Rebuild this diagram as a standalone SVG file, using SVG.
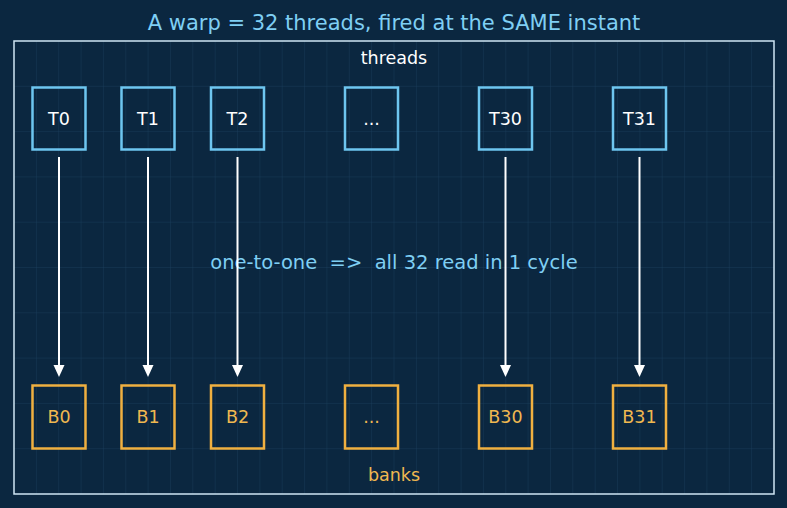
<svg xmlns="http://www.w3.org/2000/svg" width="787" height="508" viewBox="0 0 787 508">
<defs>
<style>
.t{font-family:"DejaVu Sans",sans-serif;text-anchor:middle;dominant-baseline:central}
.th rect{fill:none;stroke:#6ec6f0;stroke-width:2.5}
.th text{fill:#ffffff;font-size:17.5px}
.bk rect{fill:none;stroke:#f0b040;stroke-width:2.5}
.bk text{fill:#f0b850;font-size:17.5px}
.grid line{stroke:#1e4260;stroke-width:1;opacity:0.4}
</style>
</defs>
<rect width="787" height="508" fill="#0b2740"/>
<g class="grid">
<line x1="36.4" y1="41" x2="36.4" y2="494"/><line x1="58.7" y1="41" x2="58.7" y2="494"/><line x1="81.1" y1="41" x2="81.1" y2="494"/><line x1="103.4" y1="41" x2="103.4" y2="494"/><line x1="125.8" y1="41" x2="125.8" y2="494"/><line x1="148.1" y1="41" x2="148.1" y2="494"/><line x1="170.5" y1="41" x2="170.5" y2="494"/><line x1="192.8" y1="41" x2="192.8" y2="494"/><line x1="215.2" y1="41" x2="215.2" y2="494"/><line x1="237.5" y1="41" x2="237.5" y2="494"/><line x1="259.9" y1="41" x2="259.9" y2="494"/><line x1="282.2" y1="41" x2="282.2" y2="494"/><line x1="304.6" y1="41" x2="304.6" y2="494"/><line x1="326.9" y1="41" x2="326.9" y2="494"/><line x1="349.3" y1="41" x2="349.3" y2="494"/><line x1="371.6" y1="41" x2="371.6" y2="494"/><line x1="394" y1="41" x2="394" y2="494"/><line x1="416.4" y1="41" x2="416.4" y2="494"/><line x1="438.7" y1="41" x2="438.7" y2="494"/><line x1="461.1" y1="41" x2="461.1" y2="494"/><line x1="483.4" y1="41" x2="483.4" y2="494"/><line x1="505.8" y1="41" x2="505.8" y2="494"/><line x1="528.1" y1="41" x2="528.1" y2="494"/><line x1="550.5" y1="41" x2="550.5" y2="494"/><line x1="572.8" y1="41" x2="572.8" y2="494"/><line x1="595.2" y1="41" x2="595.2" y2="494"/><line x1="617.5" y1="41" x2="617.5" y2="494"/><line x1="639.9" y1="41" x2="639.9" y2="494"/><line x1="662.2" y1="41" x2="662.2" y2="494"/><line x1="684.6" y1="41" x2="684.6" y2="494"/><line x1="706.9" y1="41" x2="706.9" y2="494"/><line x1="729.3" y1="41" x2="729.3" y2="494"/><line x1="751.6" y1="41" x2="751.6" y2="494"/>
<line x1="14" y1="86.3" x2="774" y2="86.3"/><line x1="14" y1="131.6" x2="774" y2="131.6"/><line x1="14" y1="176.9" x2="774" y2="176.9"/><line x1="14" y1="222.2" x2="774" y2="222.2"/><line x1="14" y1="267.5" x2="774" y2="267.5"/><line x1="14" y1="312.8" x2="774" y2="312.8"/><line x1="14" y1="358.1" x2="774" y2="358.1"/><line x1="14" y1="403.4" x2="774" y2="403.4"/><line x1="14" y1="448.7" x2="774" y2="448.7"/>
</g>
<rect x="14" y="41" width="760" height="453" fill="none" stroke="#cfe6f4" stroke-width="1.5"/>
<text class="t" x="394" y="23" fill="#7fcff4" font-size="21">A warp = 32 threads, fired at the SAME instant</text>
<text class="t" x="394" y="58" fill="#ffffff" font-size="17.5">threads</text>
<text class="t" x="394" y="475" fill="#f0b850" font-size="17.5">banks</text>
<text class="t" x="394" y="262" fill="#7fcff4" font-size="19.5" xml:space="preserve">one-to-one  =&gt;  all 32 read in 1 cycle</text>
<g id="T0" class="th"><rect x="32.5" y="87.5" width="53" height="62"/><text class="t" x="59" y="118.5">T0</text></g>
<g id="T1" class="th"><rect x="121.5" y="87.5" width="53" height="62"/><text class="t" x="148" y="118.5">T1</text></g>
<g id="T2" class="th"><rect x="211" y="87.5" width="53" height="62"/><text class="t" x="237.5" y="118.5">T2</text></g>
<g id="Tdots" class="th"><rect x="345" y="87.5" width="53" height="62"/><text class="t" x="371.5" y="118.5">...</text></g>
<g id="T30" class="th"><rect x="479" y="87.5" width="53" height="62"/><text class="t" x="505.5" y="118.5">T30</text></g>
<g id="T31" class="th"><rect x="613" y="87.5" width="53" height="62"/><text class="t" x="639.5" y="118.5">T31</text></g>
<g id="B0" class="bk"><rect x="32.5" y="385.5" width="53" height="63"/><text class="t" x="59" y="416.5">B0</text></g>
<g id="B1" class="bk"><rect x="121.5" y="385.5" width="53" height="63"/><text class="t" x="148" y="416.5">B1</text></g>
<g id="B2" class="bk"><rect x="211" y="385.5" width="53" height="63"/><text class="t" x="237.5" y="416.5">B2</text></g>
<g id="Bdots" class="bk"><rect x="345" y="385.5" width="53" height="63"/><text class="t" x="371.5" y="416.5">...</text></g>
<g id="B30" class="bk"><rect x="479" y="385.5" width="53" height="63"/><text class="t" x="505.5" y="416.5">B30</text></g>
<g id="B31" class="bk"><rect x="613" y="385.5" width="53" height="63"/><text class="t" x="639.5" y="416.5">B31</text></g>
<g id="connectors" stroke="#ffffff" stroke-width="2" fill="#ffffff">
<line x1="59" y1="157" x2="59" y2="366"/><path d="M53.5,365 L64.5,365 L59,377 Z" stroke="none"/>
<line x1="148" y1="157" x2="148" y2="366"/><path d="M142.5,365 L153.5,365 L148,377 Z" stroke="none"/>
<line x1="237.5" y1="157" x2="237.5" y2="366"/><path d="M232,365 L243,365 L237.5,377 Z" stroke="none"/>
<line x1="505.5" y1="157" x2="505.5" y2="366"/><path d="M500,365 L511,365 L505.5,377 Z" stroke="none"/>
<line x1="639.5" y1="157" x2="639.5" y2="366"/><path d="M634,365 L645,365 L639.5,377 Z" stroke="none"/>
</g>
</svg>
